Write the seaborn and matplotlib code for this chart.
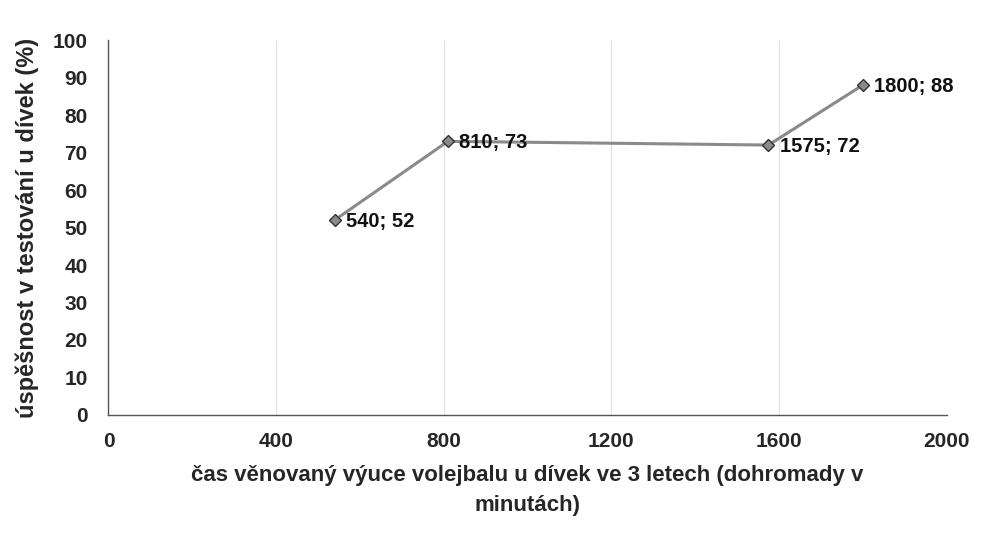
import seaborn as sns
import pandas as pd
import matplotlib.pyplot as plt

# hodnoty z grafu
cas = [540, 810, 1575, 1800]
uspesnost = [52, 73, 72, 88]
popisky = ["540; 52", "810; 73", "1575; 72", "1800; 88"]

df = pd.DataFrame({"cas": cas, "uspesnost": uspesnost})

sns.set_style("white")
plt.rcParams['font.family'] = ['Liberation Sans', 'DejaVu Sans']
plt.rcParams['font.weight'] = 'bold'

fig = plt.figure(figsize=(9.86, 5.57), dpi=100)
ax = fig.add_axes([0.11, 0.255, 0.85, 0.673])

sns.lineplot(
    data=df,
    x="cas",
    y="uspesnost",
    color="#8a8a8a",
    linewidth=2.2,
    marker="D",
    markersize=6,
    markerfacecolor="#8a8a8a",
    markeredgecolor="#333333",
    markeredgewidth=1,
    ax=ax
)

for x, y, t in zip(cas, uspesnost, popisky):
    ax.annotate(t, (x, y), xytext=(8, -1), textcoords="offset points",
                va="center", ha="left", fontsize=14.5, fontweight="bold",
                color="#111111")

ax.set_xlim(0, 2000)
ax.set_ylim(0, 100)
ax.set_xticks(range(0, 2001, 400))
ax.set_yticks(range(0, 101, 10))
ax.xaxis.grid(True, color="#e2e2e2", linewidth=0.8)
ax.yaxis.grid(False)

for s in ["top", "right"]:
    ax.spines[s].set_visible(False)
for s in ["left", "bottom"]:
    ax.spines[s].set_color("#555555")
    ax.spines[s].set_linewidth(1)

ax.tick_params(axis="y", direction="out", length=5, width=1, color="#555555",
               labelsize=15, pad=10)
ax.tick_params(axis="x", direction="inout", length=8, width=1, color="#888888",
               labelsize=15, pad=8)
for lab in ax.get_xticklabels() + ax.get_yticklabels():
    lab.set_fontweight("bold")

ax.set_xlabel("čas věnovaný výuce volejbalu u dívek ve 3 letech (dohromady v\nminutách)",
              fontsize=16, fontweight="bold", labelpad=10, linespacing=1.6)
ax.set_ylabel("úspěšnost v testování u dívek (%)", fontsize=17,
              fontweight="bold", labelpad=10)

fig.savefig("out.png", dpi=100)
